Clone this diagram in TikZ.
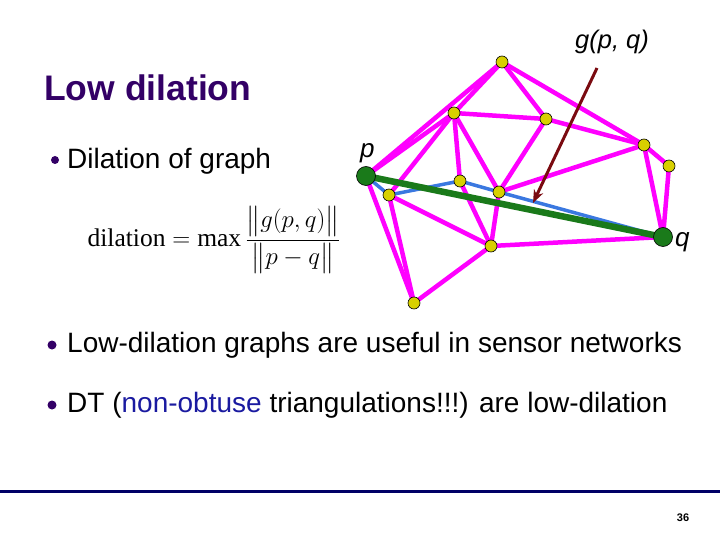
\documentclass[tikz,border=0pt]{standalone}
\usepackage{amsmath}
\usepackage[no-math]{fontspec}
\setmainfont{Liberation Sans}
\newfontfamily\tms{Liberation Serif}
\usetikzlibrary{arrows.meta}
\definecolor{ttl}{HTML}{330066}
\definecolor{mag}{HTML}{FF00FF}
\definecolor{blu}{HTML}{3A78E0}
\definecolor{grn}{HTML}{1A7A1A}
\definecolor{ylw}{HTML}{D8D000}
\definecolor{mar}{HTML}{7A0A10}
\definecolor{nvy}{HTML}{000066}
\definecolor{bluetxt}{HTML}{1A1AA0}
\tikzset{
  medge/.style={draw=mag,line width=4.5pt},
  bedge/.style={draw=blu,line width=3.5pt},
  gedge/.style={draw=grn,line width=6.5pt},
  ynode/.style={circle,fill=ylw,draw=black,line width=0.6pt,inner sep=0pt,minimum size=12pt},
  gnode/.style={circle,fill=grn,draw=black,line width=0.6pt,inner sep=0pt,minimum size=19pt},
  bul/.style={circle,fill=ttl,inner sep=0pt,minimum size=9pt},
  btext/.style={anchor=base west,inner sep=0pt,font=\fontsize{28}{32}\selectfont}
}
\begin{document}
\begin{tikzpicture}[x=1pt,y=-1pt]
\useasboundingbox (0,0) rectangle (720,540);
% coordinates
\coordinate (cp) at (366,176);
\coordinate (cA) at (502,62);
\coordinate (cB) at (454,113);
\coordinate (cC) at (546,119);
\coordinate (cD) at (644,145);
\coordinate (cE) at (669,166);
\coordinate (cF) at (460,181);
\coordinate (cG) at (499,192);
\coordinate (cH) at (389,195);
\coordinate (cq) at (663,237);
\coordinate (cI) at (491,246);
\coordinate (cJ) at (414,303);
% magenta edges
\foreach \a/\b in {cp/cA,cp/cB,cA/cB,cH/cB,cB/cC,cB/cF,cB/cG,cA/cC,cA/cD,cC/cG,cC/cD,cG/cD,cD/cE,cD/cq,cE/cq,cF/cI,cG/cI,cH/cI,cH/cJ,cp/cJ,cI/cJ,cI/cq}
  \draw[medge,line cap=round] (\a) -- (\b);
% blue path
\draw[bedge,line join=round] (cp) -- (cH) -- (cF) -- (cG) -- (cq);
% green edge
\draw[gedge] (cp) -- (cq);
% nodes
\foreach \n in {A,B,C,D,E,F,G,H,I,J}
  \node[ynode] (n\n) at (c\n) {};
\node[gnode] (np) at (cp) {};
\node[gnode] (nq) at (cq) {};
% arrow
\coordinate (at) at (597,68);
\coordinate (ah) at (533,203);
\draw[draw=mar,line width=3pt,-{Stealth[length=13pt,width=10pt]}] (at) -- (ah);
% labels
\node[font=\fontsize{25.5}{30}\selectfont\itshape,anchor=base] (lg) at (612,49) {g(p, q)};
\node[font=\fontsize{26}{30}\selectfont\itshape,anchor=base west,inner sep=0pt] (lp) at (360,158) {p};
\node[font=\fontsize{26}{30}\selectfont\itshape,anchor=base west,inner sep=0pt] (lq) at (675,246) {q};
% title
\node[anchor=base west,inner sep=0pt,text=ttl,font=\fontsize{35.5}{40}\selectfont\bfseries] (title) at (44,101) {Low dilation};
% bullets
\node[bul,minimum size=8pt] (b1) at (55,160) {};
\node[btext] (t1) at (67,169) {Dilation of graph};
\node[anchor=center,inner sep=0pt] (formula) at (214,240) {\tms\fontsize{25.5}{30}\selectfont dilation${}={}$max$\,\dfrac{\bigl\lVert g(p,q)\bigr\rVert}{\bigl\lVert p-q\bigr\rVert}$};
\node[bul] (b2) at (52,345) {};
\node[btext] (t2) at (67,352) {Low-dilation graphs are useful in sensor networks};
\node[bul] (b3) at (52,405) {};
\node[btext] (t3) at (67,412) {DT (\textcolor{bluetxt}{non-obtuse} triangulations!!!) are low-dilation};
% rule
\draw[draw=nvy,line width=3pt] (0,491) -- (720,491);
\node[anchor=base,inner sep=0pt,font=\fontsize{11}{13}\selectfont\bfseries] (pg) at (683,521) {36};
\end{tikzpicture}
\end{document}
